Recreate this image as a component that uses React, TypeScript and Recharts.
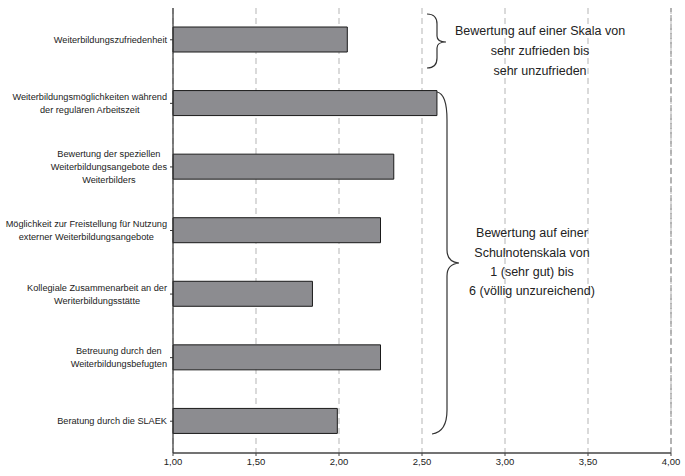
import React from 'react';
import { BarChart, Bar, XAxis, YAxis, CartesianGrid, ReferenceLine } from 'recharts';

const categories = [
  'Weiterbildungszufriedenheit',
  'Weiterbildungsmöglichkeiten während\nder regulären Arbeitszeit',
  'Bewertung der speziellen\nWeiterbildungsangebote des\nWeiterbilders',
  'Möglichkeit zur Freistellung für Nutzung\nexterner Weiterbildungsangebote',
  'Kollegiale Zusammenarbeit an der\nWeriterbildungsstätte',
  'Betreuung durch den\nWeiterbildungsbefugten',
  'Beratung durch die SLAEK',
];
const scores = [2.05, 2.59, 2.33, 2.25, 1.84, 2.25, 1.99];
const xTicks = [1, 1.5, 2, 2.5, 3, 3.5, 4];

const noteTop = ['Bewertung auf einer Skala von', 'sehr zufrieden bis', 'sehr unzufrieden'];
const noteBottom = ['Bewertung auf einer', 'Schulnotenskala von', '1 (sehr gut) bis', '6 (völlig unzureichend)'];

const data = categories.map((name, i) => ({ name, score: scores[i] }));

const FONT = "'Liberation Sans', Arial, sans-serif";
const LABEL_SIZE = 9.2;

let ctx: CanvasRenderingContext2D | null = null;
function measure(s: string) {
  if (!ctx) ctx = document.createElement('canvas').getContext('2d');
  if (!ctx) return s.length * 4.6;
  ctx.font = `${LABEL_SIZE}px ${FONT}`;
  return ctx.measureText(s).width;
}

function CategoryTick(props: any) {
  const { x, y, payload } = props;
  const lines: string[] = String(payload.value).split('\n');
  const w = Math.max(...lines.map(measure));
  const cx = x - 1 - w / 2;
  const lh = 13;
  const y0 = y - ((lines.length - 1) * lh) / 2;
  return (
    <text x={cx} y={y0} textAnchor="middle" fontSize={LABEL_SIZE} fontFamily={FONT} fill="#222">
      {lines.map((l, i) => (
        <tspan key={i} x={cx} y={y0 + i * lh} dy="0.35em">
          {l}
        </tspan>
      ))}
    </text>
  );
}

export default function App() {
  return (
    <div style={{ position: 'absolute', left: 0, top: 0, width: 685, height: 476, background: '#fff' }}>
      <BarChart
        width={685}
        height={476}
        data={data}
        layout="vertical"
        margin={{ top: 8, right: 14, bottom: 3, left: 0 }}
        barCategoryGap={0}
      >
        <CartesianGrid horizontal={false} stroke="#b5b5b5" strokeDasharray="6 4" />
        <ReferenceLine x={4} stroke="#8a8a8a" strokeDasharray="6 3" />
        <XAxis
          type="number"
          domain={[1, 4]}
          ticks={xTicks}
          interval={0}
          height={20}
          tickSize={3}
          tickFormatter={(v: number) => v.toFixed(2).replace('.', ',')}
          tick={{ fontSize: 9.5, fontFamily: FONT, fill: '#222' }}
          axisLine={{ stroke: '#444', strokeWidth: 1.5 }}
          tickLine={{ stroke: '#444' }}
        />
        <YAxis
          type="category"
          dataKey="name"
          width={173}
          tickSize={3}
          interval={0}
          tick={<CategoryTick />}
          axisLine={{ stroke: '#333', strokeWidth: 1.2 }}
          tickLine={{ stroke: '#333' }}
        />
        <Bar dataKey="score" barSize={25} fill="#8c8c90" stroke="#1a1a1a" strokeWidth={1} isAnimationActive={false} />
      </BarChart>
      <svg width={685} height={476} style={{ position: 'absolute', left: 0, top: 0, pointerEvents: 'none' }}>
        <path
          d="M427,14 Q437,14 437,24 L437,36 Q437,42 446,42 Q437,42 437,48 L437,58 Q437,68 427,68"
          fill="none"
          stroke="#333"
          strokeWidth={1.2}
        />
        <path
          d="M437,92 Q447,94 447,120 L447,250 Q447,262 459,263 Q447,264 447,276 L447,410 Q447,432 432,434"
          fill="none"
          stroke="#333"
          strokeWidth={1.2}
        />
        <text x={540} textAnchor="middle" fontSize={12.5} fontFamily={FONT} fill="#222">
          {noteTop.map((l, i) => (
            <tspan key={i} x={540} y={31 + i * 20} dy="0.35em">
              {l}
            </tspan>
          ))}
        </text>
        <text x={532} textAnchor="middle" fontSize={12.5} fontFamily={FONT} fill="#222">
          {noteBottom.map((l, i) => (
            <tspan key={i} x={532} y={233 + i * 19.3} dy="0.35em">
              {l}
            </tspan>
          ))}
        </text>
      </svg>
    </div>
  );
}
